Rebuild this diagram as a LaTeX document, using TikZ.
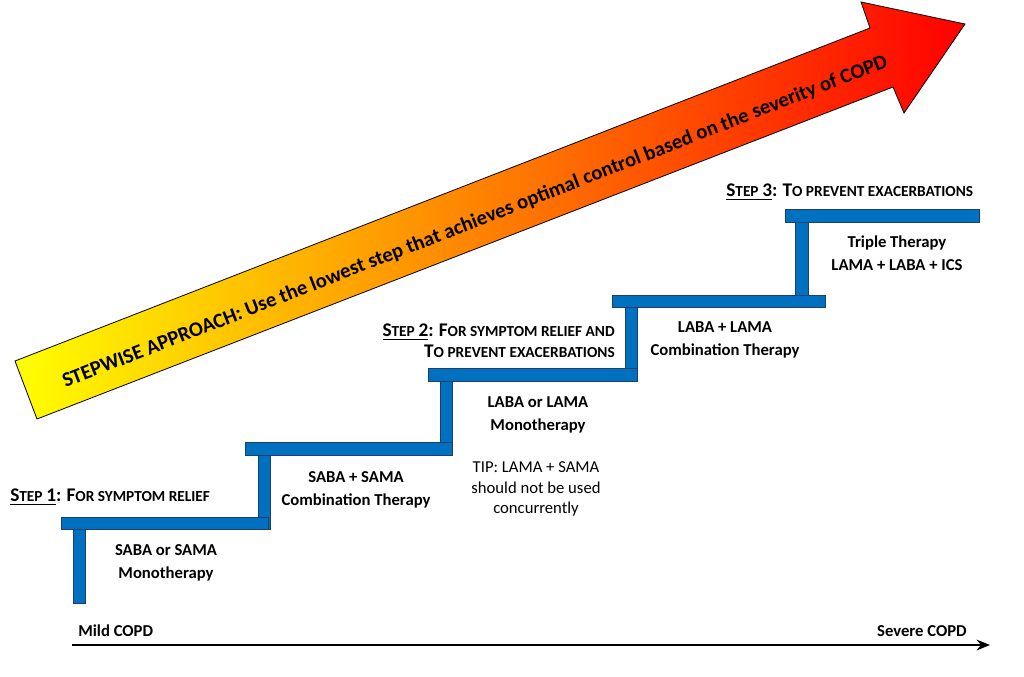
\documentclass[tikz,border=0pt]{standalone}
\usepackage{fontspec}
\setmainfont{Carlito}
\usetikzlibrary{arrows.meta}
\definecolor{stairblue}{HTML}{0070C0}
\definecolor{stairedge}{HTML}{1F3F66}
\newcommand{\fs}[1]{\fontsize{#1}{#1}\selectfont}
\newcommand{\stepsc}[3]{\underline{{\fs{14.5}S}{\fs{11.5}TEP} {\fs{14.5}#1}}{\fs{14.5}:} {\fs{14.5}#2}{\fs{11.5}#3}}
\begin{document}
\begin{tikzpicture}[x=0.75pt,y=-0.75pt,
  stair/.style={fill=stairblue,draw=stairedge,line width=0.5pt},
  lbl/.style={font=\bfseries\fs{12.5},align=center,inner sep=0pt},
  tip/.style={font=\fs{12.5},align=center,inner sep=0pt}]
\useasboundingbox (0,0) rectangle (1024,676);
% big arrow
\path[draw=black,line width=0.6pt,shading=axis,left color=yellow,middle color=orange!70!yellow,right color=red,shading angle=90]
  (15,361) -- (870,28) -- (861,2) -- (965,24) -- (904,113) -- (893,87) -- (37,419) -- cycle;
\node[rotate=21.3,font=\bfseries\fs{15.5},inner sep=0pt] (arrtxt) at (475,222) {STEPWISE APPROACH: Use the lowest step that achieves optimal control based on the severity of COPD};
% stairs: risers then treads
\draw[stair] (73,529) rectangle (85,603);
\draw[stair] (258,455) rectangle (270,529);
\draw[stair] (440,381) rectangle (452,455);
\draw[stair] (625,307) rectangle (637,381);
\draw[stair] (795,222) rectangle (808,298);
\draw[stair] (61,517) rectangle (268,529);
\draw[stair] (245,442) rectangle (452,455);
\draw[stair] (428,368) rectangle (637,381);
\draw[stair] (612,295) rectangle (825,307);
\draw[stair] (785,209) rectangle (979,222);
% texts
\node[lbl,anchor=west] (s1) at (10,497) {\stepsc{1}{F}{OR SYMPTOM RELIEF}};
\node[lbl] (t1) at (166,563) {SABA or SAMA\\[5pt]Monotherapy};
\node[lbl] (t2) at (356,490) {SABA + SAMA\\[5pt]Combination Therapy};
\node[lbl,anchor=east,align=right] (s2) at (615,341) {\stepsc{2}{F}{OR SYMPTOM RELIEF AND}\\[3pt]{\fs{14.5}T}{\fs{11.5}O PREVENT EXACERBATIONS}};
\node[lbl] (t3) at (538,415) {LABA or LAMA\\[5pt]Monotherapy};
\node[tip] (tipn) at (536,489) {TIP: LAMA + SAMA\\[3pt]should not be used\\[3pt]concurrently};
\node[lbl] (t4) at (725,340) {LABA + LAMA\\[5pt]Combination Therapy};
\node[lbl,anchor=west] (s3) at (726,192) {\stepsc{3}{T}{O PREVENT EXACERBATIONS}};
\node[lbl] (t5) at (897,253) {Triple Therapy\\[5pt]LAMA + LABA + ICS};
% axis
\coordinate (axs) at (72,645);
\coordinate (axe) at (990,645);
\draw[line width=1.6pt,-{Stealth[length=10pt,width=8pt]}] (axs) -- (axe);
\node[lbl,anchor=west] (mild) at (78,631) {Mild COPD};
\node[lbl,anchor=east] (sev) at (967,631) {Severe COPD};
\end{tikzpicture}
\end{document}
